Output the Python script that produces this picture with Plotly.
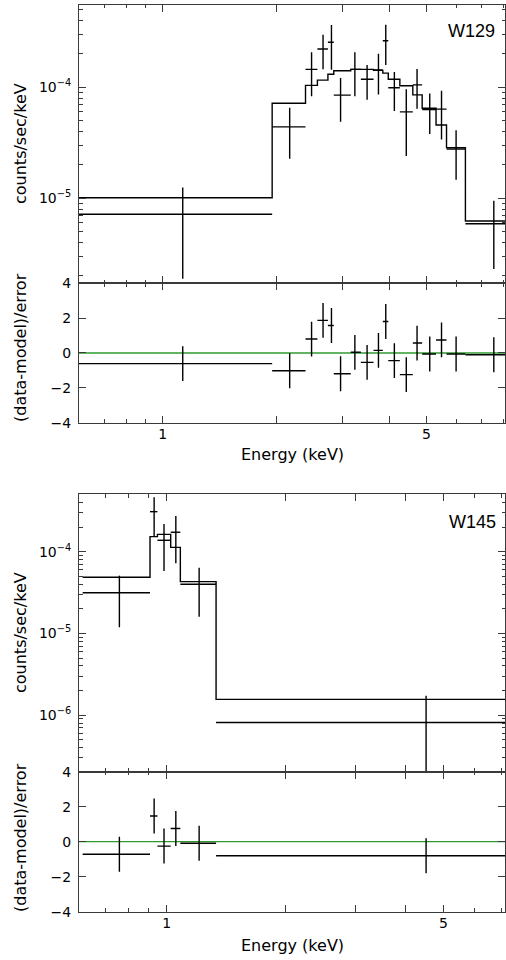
import plotly.graph_objects as go

# ---------------- W129 ----------------
w129_edges = [0.31, 1.95, 2.39, 2.57, 2.74, 2.84, 3.15, 3.35, 3.62, 3.83, 3.96,
              4.25, 4.60, 4.87, 5.30, 5.65, 6.34, 8.74]
w129_energy = [1.13, 2.17, 2.48, 2.66, 2.80, 2.96, 3.23, 3.48, 3.73, 3.90, 4.11,
               4.42, 4.72, 5.10, 5.48, 5.99, 7.54]
w129_rate = [7.18e-6, 4.40e-5, 1.45e-4, 2.21e-4, 2.54e-4, 8.5e-5, 1.45e-4, 1.18e-4,
             1.43e-4, 2.62e-4, 9.9e-5, 6.0e-5, 1.05e-4, 6.3e-5, 6.35e-5, 2.78e-5, 5.9e-6]
w129_sigma = [5.3e-6, 2.13e-5, 6.2e-5, 7.6e-5, 1.10e-4, 3.6e-5, 6.2e-5, 4.1e-5,
              5.7e-5, 1.03e-4, 3.8e-5, 3.6e-5, 4.1e-5, 2.5e-5, 2.96e-5, 1.31e-5, 3.6e-6]
w129_model = [1.01e-5, 7.18e-5, 1.04e-4, 1.16e-4, 1.31e-4, 1.41e-4, 1.45e-4, 1.45e-4,
              1.42e-4, 1.34e-4, 1.18e-4, 1.03e-4, 8.53e-5, 6.47e-5, 4.57e-5, 2.86e-5, 6.24e-6]
w129_delchi = [-0.61, -1.02, 0.80, 1.87, 1.58, -1.19, 0.04, -0.54, 0.15, 1.81, -0.44,
               -1.24, 0.57, -0.06, 0.75, -0.06, -0.10]

# ---------------- W145 ----------------
w145_edges = [0.613, 0.907, 0.947, 1.023, 1.082, 1.332, 7.71]
w145_energy = [0.759, 0.929, 0.984, 1.054, 1.207, 4.52]
w145_rate = [3.14e-5, 3.09e-4, 1.38e-4, 1.73e-4, 3.99e-5, 8.14e-7]
w145_sigma = [1.95e-5, 1.56e-4, 8.0e-5, 1.01e-4, 2.39e-5, 9.1e-7]
w145_model = [4.87e-5, 1.53e-4, 1.63e-4, 1.13e-4, 4.30e-5, 1.56e-6]
w145_delchi = [-0.72, 1.47, -0.25, 0.76, -0.09, -0.80]

# axis ticks
energy_major = [1, 2, 3, 4, 5]
energy_labelled = [1, 5]
energy_labels = ["1", "5"]
resid_ticks = [-4, -2, 0, 2, 4]
resid_labels = ["\u22124", "\u22122", "0", "2", "4"]

TICK_FONT = dict(family="DejaVu Sans", size=14, color="black")
LABEL_FONT = dict(family="DejaVu Sans", size=16, color="black")
FRAME = "#3a3a3a"
LW = 1.4


def sup_label(e):
    return "10<sup>\u2212%d</sup>" % (-e)


fig = go.Figure()


def add_source(spec_x, spec_y, res_x, lab_x, res_y,
               edges, energy, rate, sigma, model, delchi):
    lo = edges[:-1]
    hi = edges[1:]
    ex_plus = [h - c for h, c in zip(hi, energy)]
    ex_minus = [c - l for l, c in zip(lo, energy)]
    hidden = dict(size=2, color="black", opacity=0)
    # folded model as a histogram over the spectral bins
    fig.add_trace(go.Scatter(
        x=edges, y=model + [model[-1]], mode="lines",
        line=dict(shape="hv", color="black", width=LW),
        xaxis=spec_x, yaxis=spec_y, showlegend=False, hoverinfo="skip"))
    # binned spectrum
    fig.add_trace(go.Scatter(
        x=energy, y=rate, mode="markers", marker=hidden,
        error_x=dict(type="data", symmetric=False, array=ex_plus, arrayminus=ex_minus,
                     thickness=LW, width=0, color="black"),
        error_y=dict(type="data", array=sigma, thickness=LW, width=0, color="black"),
        xaxis=spec_x, yaxis=spec_y, showlegend=False))
    # residuals in units of sigma
    fig.add_trace(go.Scatter(
        x=energy, y=delchi, mode="markers", marker=hidden,
        error_x=dict(type="data", symmetric=False, array=ex_plus, arrayminus=ex_minus,
                     thickness=LW, width=0, color="black"),
        error_y=dict(type="data", array=[1.0] * len(delchi), thickness=LW, width=0,
                     color="black"),
        xaxis=res_x, yaxis=res_y, showlegend=False))
    # same residual points registered on the energy-label axis (no visible marks)
    fig.add_trace(go.Scatter(
        x=energy, y=delchi, mode="markers", marker=hidden,
        xaxis=lab_x, yaxis=res_y, showlegend=False, hoverinfo="skip"))
    # zero-residual reference across the full panel width
    fig.add_shape(type="line", xref="paper", yref=res_y, x0=0, x1=1, y0=0, y1=0,
                  line=dict(color="#2e9a2e", width=1.3), layer="below")


add_source("x", "y", "x2", "x5", "y2",
           w129_edges, w129_energy, w129_rate, w129_sigma, w129_model, w129_delchi)
add_source("x3", "y3", "x4", "x6", "y4",
           w145_edges, w145_energy, w145_rate, w145_sigma, w145_model, w145_delchi)

frame = dict(showline=True, linecolor=FRAME, linewidth=1, mirror="ticks",
             ticks="inside", ticklen=7, tickwidth=1, tickcolor=FRAME,
             showgrid=False, zeroline=False, tickfont=TICK_FONT, automargin=False)
minor_log = dict(dtick="D1", ticks="inside", ticklen=3.5, tickwidth=1,
                 tickcolor=FRAME, showgrid=False)


def energy_axis(anchor, rng):
    return dict(frame, type="log", range=rng, anchor=anchor, domain=[0, 1],
                tickmode="array", tickvals=energy_major, showticklabels=False,
                minor=minor_log)


def energy_label_axis(over, anchor, rng):
    # printed energy values of a residual panel; its ticks come from the frame axis
    return dict(type="log", range=rng, overlaying=over, anchor=anchor, side="bottom",
                showline=False, showgrid=False, zeroline=False, ticks="",
                tickmode="array", tickvals=energy_labelled, ticktext=energy_labels,
                tickfont=TICK_FONT, ticklabelstandoff=1, automargin=False)


def rate_axis(anchor, dom, rng, majors):
    return dict(frame, type="log", range=rng, anchor=anchor, domain=dom,
                tickmode="array", tickvals=[10.0 ** e for e in majors],
                ticktext=[sup_label(e) for e in majors], ticklabelstandoff=4,
                minor=minor_log)


def resid_axis(anchor, dom):
    return dict(frame, range=[-4, 4], anchor=anchor, domain=dom, tickmode="array",
                tickvals=resid_ticks, ticktext=resid_labels, ticklabelstandoff=4)


r1 = [-0.2218, 0.907]
r2 = [-0.2218, 0.8545]
fig.update_layout(
    width=506, height=960,
    margin=dict(l=79, r=1, t=0, b=0, autoexpand=False),
    paper_bgcolor="white", plot_bgcolor="white",
    xaxis=energy_axis("y", r1),
    xaxis2=energy_axis("y2", r1),
    xaxis3=energy_axis("y3", r2),
    xaxis4=energy_axis("y4", r2),
    xaxis5=energy_label_axis("x2", "y2", r1),
    xaxis6=energy_label_axis("x4", "y4", r2),
    yaxis=rate_axis("x", [0.7049, 0.9948], [-5.766, -3.259], [-5, -4]),
    yaxis2=resid_axis("x2", [0.5597, 0.7049]),
    yaxis3=rate_axis("x3", [0.1961, 0.4854], [-6.693, -3.294], [-6, -5, -4]),
    yaxis4=resid_axis("x4", [0.0503, 0.1961]),
)

ytitle_x = (20 - 79) / 426
annotations = [
    ("counts/sec/keV", ytitle_x, 1 - 144 / 960, -90, LABEL_FONT, "center"),
    ("(data-model)/error", ytitle_x, 1 - 348 / 960, -90, LABEL_FONT, "center"),
    ("Energy (keV)", 0.5, 1 - 455 / 960, 0, LABEL_FONT, "center"),
    ("counts/sec/keV", ytitle_x, 1 - 633 / 960, -90, LABEL_FONT, "center"),
    ("(data-model)/error", ytitle_x, 1 - 838 / 960, -90, LABEL_FONT, "center"),
    ("Energy (keV)", 0.5, 1 - 945 / 960, 0, LABEL_FONT, "center"),
    ("W129", (497 - 79) / 426, 1 - 31 / 960, 0,
     dict(family="Liberation Sans", size=18, color="black"), "right"),
    ("W145", (498 - 79) / 426, 1 - 521.5 / 960, 0,
     dict(family="Liberation Sans", size=18, color="black"), "right"),
]
for text, x, y, ang, font, xa in annotations:
    fig.add_annotation(text=text, x=x, y=y, xref="paper", yref="paper",
                       xanchor=xa, yanchor="middle", textangle=ang,
                       showarrow=False, font=font)

fig.write_html("out.html")
